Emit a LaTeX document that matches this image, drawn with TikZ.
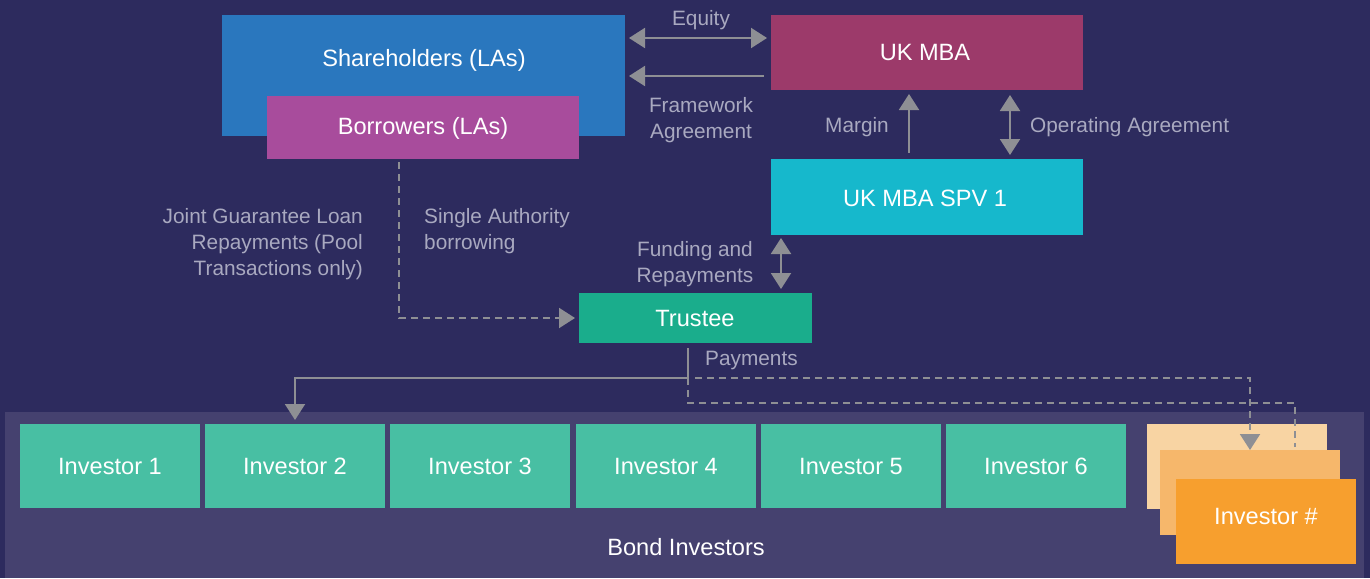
\documentclass[tikz,border=0pt]{standalone}
\usepackage{fontspec}
\setmainfont{Liberation Sans}
\usetikzlibrary{arrows.meta}
\definecolor{bg}{HTML}{2D2B5E}
\definecolor{panel}{HTML}{45416F}
\definecolor{shblue}{HTML}{2A77BE}
\definecolor{borrpurple}{HTML}{A84C9C}
\definecolor{mbared}{HTML}{9C3A6A}
\definecolor{spvcyan}{HTML}{16B8CC}
\definecolor{trustgreen}{HTML}{1AAD8C}
\definecolor{invgreen}{HTML}{48BFA3}
\definecolor{orA}{HTML}{F8D4A3}
\definecolor{orB}{HTML}{F6B76B}
\definecolor{orC}{HTML}{F79F2E}
\definecolor{lbl}{HTML}{A9A9C0}
\definecolor{arrc}{HTML}{8E8F94}
\tikzset{
  box/.style={rectangle, inner sep=0pt, outer sep=0pt, draw=none},
  boxtext/.style={text=white, font=\fontsize{23.6}{28}\selectfont, inner sep=0pt, yshift=-2pt},
  lab/.style={text=lbl, font=\fontsize{20.8}{26}\selectfont, inner sep=0pt, yshift=-2pt},
  conn/.style={draw=arrc, line width=2pt},
  tip/.style={-{Triangle[width=20pt,length=16pt]}},
  dtip/.style={{Triangle[width=20pt,length=16pt]}-{Triangle[width=20pt,length=16pt]}},
  dash7/.style={dash pattern=on 7pt off 5pt}
}
\begin{document}
\begin{tikzpicture}[x=1pt,y=-1pt]
\fill[bg] (0,0) rectangle (1370,578);
\useasboundingbox (0,0) rectangle (1370,578);
% panel
\node[box, fill=panel, minimum width=1359pt, minimum height=166pt] (panel) at (684.5,495) {};
\node[boxtext] (bondlbl) at (686,545) {Bond Investors};
% top boxes
\node[box, fill=shblue, minimum width=403pt, minimum height=121pt] (sh) at (423.5,75.5) {};
\node[boxtext] (shtxt) at (424,58) {Shareholders (LAs)};
\node[box, fill=borrpurple, minimum width=312pt, minimum height=63pt] (borr) at (423,127.5) {};
\node[boxtext] (borrtxt) at (423,126) {Borrowers (LAs)};
\node[box, fill=mbared, minimum width=312pt, minimum height=75pt] (mba) at (927,52.5) {};
\node[boxtext] (mbatxt) at (925,50) {UK MBA};
\node[box, fill=spvcyan, minimum width=312pt, minimum height=76pt] (spv) at (927,197) {};
\node[boxtext] (spvtxt) at (925,196) {UK MBA SPV 1};
\node[box, fill=trustgreen, minimum width=233pt, minimum height=50pt] (trust) at (695.5,318) {};
\node[boxtext] (trusttxt) at (695,316) {Trustee};
% investors
\foreach \i/\xl in {1/20,2/205,3/390,4/576,5/761,6/946}{
  \node[box, fill=invgreen, minimum width=180pt, minimum height=84pt] (inv\i) at (\xl+90,466) {};
  \node[boxtext] (inv\i txt) at (\xl+90,464) {Investor \i};
}
\node[box, fill=orA, minimum width=180pt, minimum height=85pt] (invA) at (1237,466.5) {};
% labels
\node[lab] (equity) at (701,18) {Equity};
\node[lab, align=center] (frame) at (701,118) {Framework\\Agreement};
\node[lab, anchor=east] (margin) at (889,125) {Margin};
\node[lab, anchor=west] (opag) at (1030,125) {Operating Agreement};
\node[lab, align=center] (fund) at (695,262) {Funding and\\Repayments};
\node[lab, align=right, anchor=east] (joint) at (363,242) {Joint Guarantee Loan\\Repayments (Pool\\Transactions only)};
\node[lab, align=left, anchor=west] (single) at (424,229) {Single Authority\\borrowing};
\node[lab, anchor=west] (pay) at (705,358) {Payments};
% connectors
\draw[conn, dtip] ([xshift=4pt]sh.east |- 0,38) coordinate (eqA) -- ([xshift=-4pt]mba.west |- 0,38) coordinate (eqB);
\draw[conn, tip] ([xshift=-7pt]mba.west |- 0,76) coordinate (fwA) -- ([xshift=4pt]sh.east |- 0,76) coordinate (fwB);
\draw[conn, tip] ([yshift=6pt]spv.north -| 909,0) coordinate (mgA) -- ([yshift=-4pt]mba.south -| 909,0) coordinate (mgB);
\draw[conn, dtip] ([yshift=4pt]spv.north -| 1010,0) coordinate (opA) -- ([yshift=-5pt]mba.south -| 1010,0) coordinate (opB);
\draw[conn, dtip] ([yshift=-3pt]spv.south -| 781,0) coordinate (fuA) -- ([yshift=4pt]trust.north -| 781,0) coordinate (fuB);
\draw[conn, dash7, tip] ([yshift=-3pt]borr.south -| 399,0) coordinate (bA) -- (399,318) -- ([xshift=-4pt]trust.west) coordinate (bB);
% payments
\coordinate (pj) at (688,378);
\draw[conn] ([yshift=-5pt]trust.south -| 688,0) coordinate (pA) -- (pj);
\draw[conn, tip] (pj) -- (295,378) -- ([yshift=4pt]inv2.north -| 295,0) coordinate (p2);
\draw[conn, dash7, tip] (695,378) -- (1250,378) -- (1250,450) coordinate (p3);
\draw[conn, dash7] (pj) -- (688,403) -- (1295,403) -- (1295,447) coordinate (p4);
% stacked investor cards
\node[box, fill=orB, minimum width=180pt, minimum height=85pt] (invB) at (1250,492.5) {};
\node[box, fill=orC, minimum width=180pt, minimum height=85pt] (invC) at (1266,521.5) {};
\node[boxtext] (invCtxt) at (1266,514) {Investor \#};
\end{tikzpicture}
\end{document}
